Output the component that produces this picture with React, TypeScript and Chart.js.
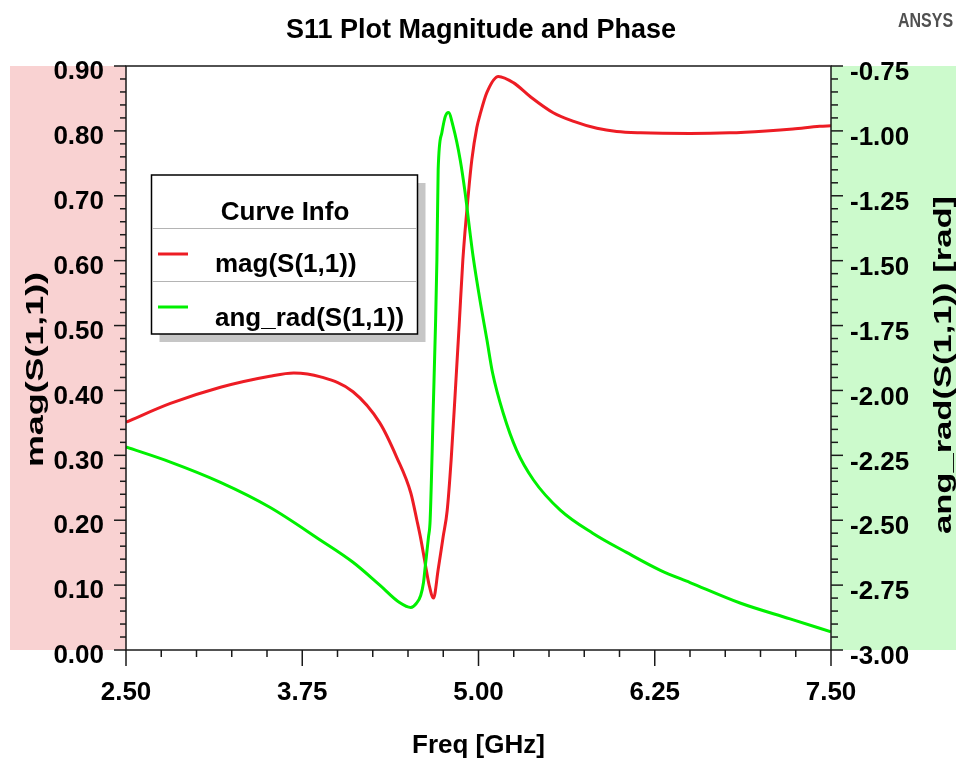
import { useEffect, useRef } from 'react';
import { Chart, registerables } from 'chart.js';

Chart.register(...registerables);

// ---- data ----
const freqMag = [2.5, 2.815, 3.17, 3.52, 3.69, 3.88, 4.11, 4.3, 4.42, 4.52, 4.563, 4.59, 4.622, 4.65, 4.681, 4.714, 4.749, 4.778, 4.806, 4.834, 4.863, 4.889, 4.929, 4.953, 4.988, 5.011, 5.059, 5.141, 5.25, 5.366, 5.53, 5.67, 5.84, 5.98, 6.15, 6.5, 6.78, 7.04, 7.23, 7.42, 7.5];
const magValues = [0.351, 0.38, 0.405, 0.422, 0.427, 0.421, 0.398, 0.35, 0.297, 0.242, 0.2, 0.172, 0.133, 0.1, 0.08, 0.124, 0.174, 0.215, 0.293, 0.393, 0.501, 0.601, 0.705, 0.756, 0.805, 0.825, 0.859, 0.884, 0.874, 0.853, 0.828, 0.815, 0.804, 0.799, 0.797, 0.796, 0.797, 0.8, 0.803, 0.807, 0.808];

const freqPhase = [2.5, 2.815, 3.17, 3.52, 3.88, 4.11, 4.3, 4.44, 4.52, 4.56, 4.59, 4.61, 4.622, 4.645, 4.657, 4.68, 4.695, 4.705, 4.714, 4.74, 4.764, 4.787, 4.82, 4.87, 4.905, 4.94, 4.962, 5.01, 5.06, 5.1, 5.175, 5.27, 5.39, 5.58, 5.81, 6.05, 6.29, 6.5, 6.86, 7.21, 7.5];
const phaseValues = [-2.218, -2.276, -2.354, -2.45, -2.577, -2.662, -2.75, -2.817, -2.836, -2.82, -2.79, -2.74, -2.68, -2.566, -2.5, -2.05, -1.75, -1.497, -1.149, -1.007, -0.945, -0.929, -0.983, -1.111, -1.238, -1.393, -1.485, -1.651, -1.806, -1.933, -2.087, -2.23, -2.345, -2.461, -2.55, -2.624, -2.693, -2.74, -2.82, -2.88, -2.93];

// axis ranges / tick steps
const xRange = [2.5, 7.5];
const xSteps = [1.25, 0.25];
const magRange = [0, 0.9];
const magSteps = [0.1, 0.02];
const phaseRange = [-3.0, -0.75];
const phaseSteps = [0.25, 0.05];

const titleText = 'S11 Plot Magnitude and Phase';
const xTitle = 'Freq [GHz]';
const magTitle = 'mag(S(1,1))';
const phaseTitle = 'ang_rad(S(1,1)) [rad]';
const legendTitle = 'Curve Info';
const seriesNames = ['mag(S(1,1))', 'ang_rad(S(1,1))'];
const RED = '#ed1c24';
const GREEN = '#00f000';

const FONT = "'Liberation Sans', Arial, Helvetica, sans-serif";

function drawTicks(ctx: CanvasRenderingContext2D, scale: any, range: number[], steps: number[], side: string, majLen: number, minLen: number) {
  const n = Math.round((range[1] - range[0]) / steps[1]);
  const ratio = Math.round(steps[0] / steps[1]);
  for (let i = 0; i <= n; i++) {
    const v = range[0] + i * steps[1];
    const p = scale.getPixelForValue(v);
    const len = i % ratio === 0 ? majLen : minLen;
    ctx.beginPath();
    if (side === 'left') {
      ctx.moveTo(scale.right, p);
      ctx.lineTo(scale.right - len, p);
    } else if (side === 'right') {
      ctx.moveTo(scale.left, p);
      ctx.lineTo(scale.left + len, p);
    } else {
      ctx.moveTo(p, scale.top);
      ctx.lineTo(p, scale.top + len);
    }
    ctx.stroke();
  }
}

function rotatedText(ctx: CanvasRenderingContext2D, text: string, bx: number, cy: number, font: string, targetLen: number) {
  ctx.save();
  ctx.font = font;
  const w = ctx.measureText(text).width;
  ctx.translate(bx, cy);
  ctx.rotate(-Math.PI / 2);
  ctx.scale(targetLen / w, 1);
  ctx.textAlign = 'center';
  ctx.textBaseline = 'alphabetic';
  ctx.fillText(text, 0, 0);
  ctx.restore();
}

const bgPlugin = {
  id: 'bgPlugin',
  beforeDraw(chart: any) {
    const { ctx, chartArea: a } = chart;
    ctx.save();
    ctx.fillStyle = '#ffffff';
    ctx.fillRect(0, 0, chart.width, chart.height);
    ctx.fillStyle = '#f9d2d2';
    ctx.fillRect(10, a.top, a.left - 10, a.bottom - a.top);
    ctx.fillStyle = '#ccfacc';
    ctx.fillRect(a.right, a.top, chart.width - a.right, a.bottom - a.top);
    ctx.restore();
  },
};

const decorPlugin = {
  id: 'decorPlugin',
  afterDraw(chart: any) {
    const { ctx, chartArea: a } = chart;
    const sx = chart.scales.x;
    const sy = chart.scales.y;
    const sy2 = chart.scales.y2;
    ctx.save();
    // frame
    ctx.strokeStyle = '#1a1a1a';
    ctx.lineWidth = 1.5;
    ctx.strokeRect(a.left, a.top, a.right - a.left, a.bottom - a.top);
    // ticks
    ctx.lineWidth = 1.5;
    drawTicks(ctx, sy, magRange, magSteps, 'left', 12, 6);
    drawTicks(ctx, sy2, phaseRange, phaseSteps, 'right', 12, 7);
    drawTicks(ctx, sx, xRange, xSteps, 'bottom', 16, 7);

    // title
    ctx.fillStyle = '#000';
    ctx.font = `bold 27px ${FONT}`;
    ctx.textAlign = 'center';
    ctx.textBaseline = 'alphabetic';
    ctx.fillText(titleText, 481, 38);

    // ANSYS
    ctx.save();
    ctx.fillStyle = '#505050';
    ctx.font = `bold 16px ${FONT}`;
    ctx.textAlign = 'left';
    ctx.translate(898, 26.5);
    ctx.scale(1, 1.3);
    ctx.fillText('ANSYS', 0, 0);
    ctx.restore();

    // x title
    ctx.fillStyle = '#000';
    ctx.font = `bold 26px ${FONT}`;
    ctx.textAlign = 'center';
    ctx.fillText(xTitle, 478.5, 753);

    // y titles
    rotatedText(ctx, magTitle, 42.5, 369.5, `bold 24px ${FONT}`, 195);
    rotatedText(ctx, phaseTitle, 951, 365, `bold 24px ${FONT}`, 338);

    // legend
    const lx = 151.5, ly = 175, lw = 266, lh = 159;
    ctx.fillStyle = '#c6c6c6';
    ctx.fillRect(lx + 8, ly + 8, lw, lh);
    ctx.fillStyle = '#ffffff';
    ctx.fillRect(lx, ly, lw, lh);
    ctx.strokeStyle = '#000';
    ctx.lineWidth = 1.5;
    ctx.strokeRect(lx, ly, lw, lh);
    ctx.strokeStyle = '#b4b4b4';
    ctx.lineWidth = 1;
    [228.5, 281.5].forEach((yy) => {
      ctx.beginPath();
      ctx.moveTo(lx + 1, yy);
      ctx.lineTo(lx + lw - 1, yy);
      ctx.stroke();
    });
    ctx.fillStyle = '#000';
    ctx.font = `bold 26px ${FONT}`;
    ctx.textAlign = 'center';
    ctx.fillText(legendTitle, 285, 219.5);
    const rows = [
      { color: RED, name: seriesNames[0], lineY: 254, base: 271.5 },
      { color: GREEN, name: seriesNames[1], lineY: 307, base: 325.5 },
    ];
    rows.forEach((r) => {
      ctx.strokeStyle = r.color;
      ctx.lineWidth = 3;
      ctx.beginPath();
      ctx.moveTo(158, r.lineY);
      ctx.lineTo(188, r.lineY);
      ctx.stroke();
      ctx.fillStyle = '#000';
      ctx.textAlign = 'left';
      ctx.fillText(r.name, 215, r.base);
    });
    ctx.restore();
  },
};

export default function App() {
  const ref = useRef<HTMLCanvasElement | null>(null);
  useEffect(() => {
    if (!ref.current) return;
    const tickFont = { family: FONT, size: 26, weight: 'bold' as const };
    const chart = new Chart(ref.current, {
      type: 'line',
      data: {
        datasets: [
          {
            label: seriesNames[0],
            data: freqMag.map((f, i) => ({ x: f, y: magValues[i] })),
            borderColor: RED,
            borderWidth: 3,
            pointRadius: 0,
            cubicInterpolationMode: 'monotone',
            yAxisID: 'y',
            order: 2,
          },
          {
            label: seriesNames[1],
            data: freqPhase.map((f, i) => ({ x: f, y: phaseValues[i] })),
            borderColor: GREEN,
            borderWidth: 3,
            pointRadius: 0,
            cubicInterpolationMode: 'monotone',
            yAxisID: 'y2',
            order: 1,
          },
        ],
      },
      plugins: [bgPlugin, decorPlugin],
      options: {
        responsive: false,
        animation: false,
        devicePixelRatio: 1,
        layout: { padding: { top: 66, left: 0, right: 0, bottom: 0 } },
        plugins: { legend: { display: false }, tooltip: { enabled: false }, title: { display: false } },
        scales: {
          x: {
            type: 'linear',
            min: xRange[0],
            max: xRange[1],
            border: { display: false },
            grid: { display: false, drawTicks: false },
            ticks: {
              stepSize: xSteps[0],
              autoSkip: false,
              maxRotation: 0,
              padding: 27,
              color: '#000',
              font: tickFont,
              callback: (v: any) => Number(v).toFixed(2),
            },
            afterFit: (s: any) => {
              s.height = 114;
              s.paddingLeft = 0;
              s.paddingRight = 0;
            },
          },
          y: {
            type: 'linear',
            position: 'left',
            min: magRange[0],
            max: magRange[1],
            border: { display: false },
            grid: { display: false, drawTicks: false },
            ticks: {
              stepSize: magSteps[0],
              padding: 22,
              labelOffset: 6,
              color: '#000',
              font: tickFont,
              callback: (v: any) => Number(v).toFixed(2),
            },
            afterFit: (s: any) => {
              s.width = 126;
              s.paddingTop = 0;
              s.paddingBottom = 0;
            },
          },
          y2: {
            type: 'linear',
            position: 'right',
            min: phaseRange[0],
            max: phaseRange[1],
            border: { display: false },
            grid: { display: false, drawTicks: false },
            ticks: {
              stepSize: phaseSteps[0],
              padding: 19,
              labelOffset: 7,
              color: '#000',
              font: tickFont,
              callback: (v: any) => Number(v).toFixed(2),
            },
            afterFit: (s: any) => {
              s.width = 125;
              s.paddingTop = 0;
              s.paddingBottom = 0;
            },
          },
        },
      },
    } as any);
    return () => chart.destroy();
  }, []);
  return (
    <div style={{ position: 'fixed', left: 0, top: 0, width: 956, height: 764, background: '#fff' }}>
      <canvas ref={ref} width={956} height={764} style={{ display: 'block', width: 956, height: 764 }} />
    </div>
  );
}
